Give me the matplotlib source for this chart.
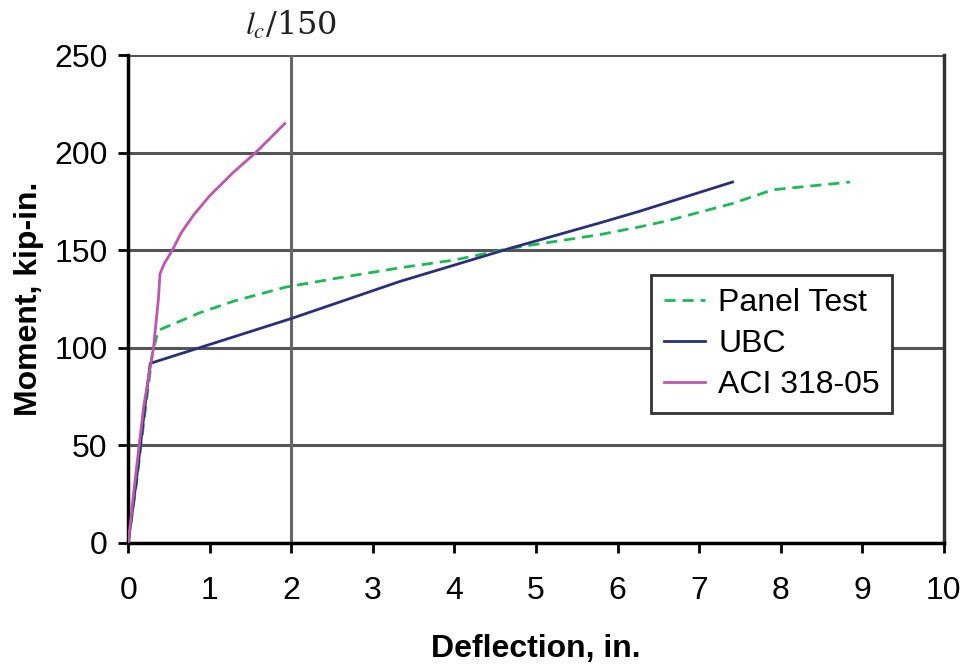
import numpy as np
import matplotlib.pyplot as plt

plt.rcParams['font.family'] = ['Liberation Sans', 'DejaVu Sans']
plt.rcParams['mathtext.fontset'] = 'stix'

# Panel Test
panel_x = [0, 0.1, 0.2, 0.3, 0.37, 0.6, 0.88, 1.3, 1.92, 2.6, 3.33, 4.0, 4.68, 5.78, 6.27, 6.6, 7.41, 7.9, 8.85]
panel_y = [0, 30, 65, 98, 109, 113, 118, 124, 131, 136, 141, 145, 151, 158, 162, 165, 174, 181, 185]

# UBC
ubc_x = [0, 0.1, 0.2, 0.27, 2.0, 3.33, 4.68, 5.78, 6.27, 7.41]
ubc_y = [0, 32, 68, 92, 115, 134, 151, 164, 170, 185]

# ACI 318-05
aci_x = [0, 0.07, 0.19, 0.31, 0.37, 0.39, 0.44, 0.54, 0.65, 0.8, 1.0, 1.29, 1.56, 1.92]
aci_y = [0, 27, 70, 100, 125, 138, 143, 150, 159, 168, 178, 190, 200, 215]

fig = plt.figure(figsize=(9.64, 6.66), dpi=100)
ax = fig.add_axes([0.133, 0.185, 0.846, 0.732])

for yv in [50, 100, 150, 200, 250]:
    ax.axhline(yv, color='#555555', lw=2.2, zorder=1)
ax.axvline(2, color='#666666', lw=2.2, zorder=1)

ax.plot(panel_x, panel_y, color='#1db954', lw=2, ls=(0, (4, 2.5)), label='Panel Test', zorder=3)
ax.plot(ubc_x, ubc_y, color='#2b2f7a', lw=2, label='UBC', zorder=3)
ax.plot(aci_x, aci_y, color='#c055b0', lw=2, label='ACI 318-05', zorder=3)

ax.set_xlim(0, 10)
ax.set_ylim(0, 250)
ax.set_xticks(range(0, 11))
ax.set_yticks(range(0, 251, 50))
ax.tick_params(direction='out', length=7, width=2, labelsize=23)
ax.tick_params(axis='x', pad=17)
ax.tick_params(axis='y', pad=8)

ax.spines['left'].set_linewidth(2.5)
ax.spines['bottom'].set_linewidth(2.5)
ax.spines['right'].set_linewidth(2.5)
ax.spines['right'].set_color('#333333')
ax.spines['top'].set_visible(False)

ax.set_xlabel('Deflection, in.', fontsize=23, fontweight='bold', labelpad=20)
ax.set_ylabel('Moment, kip-in.', fontsize=23, fontweight='bold', labelpad=7)

ax.text(2, 257, r'$l_c$/150', fontsize=23, ha='center', va='bottom',
        family='serif', math_fontfamily='stix', color='#222222')

leg = ax.legend(loc='upper left', bbox_to_anchor=(0.641, 0.549), fontsize=23,
                frameon=True, fancybox=False, handlelength=1.3, handletextpad=0.4,
                borderpad=0.4, labelspacing=0.35, borderaxespad=0)
leg.get_frame().set_edgecolor('#333333')
leg.get_frame().set_linewidth(2)
leg.get_frame().set_alpha(1)

plt.savefig('out.png', dpi=100)
